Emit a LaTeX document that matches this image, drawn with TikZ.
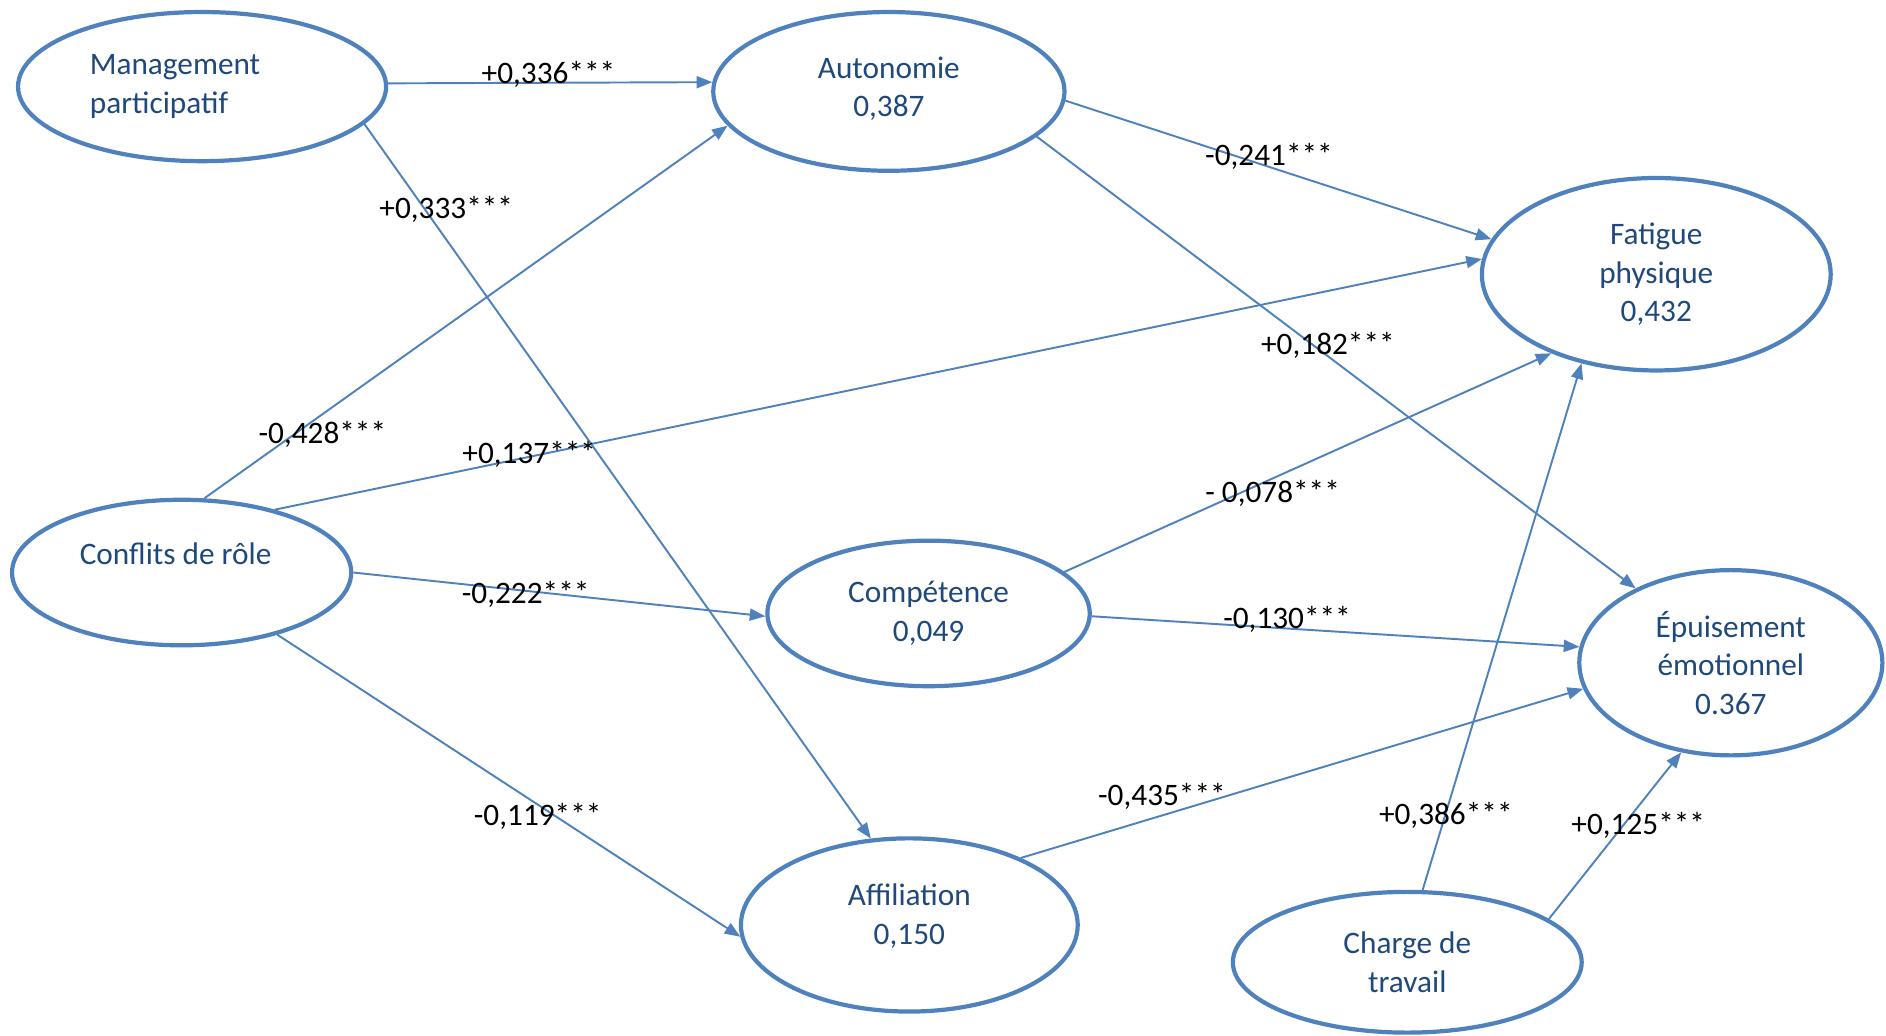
\documentclass[tikz,border=0pt]{standalone}
\usepackage{fontspec}
\setmainfont{Carlito}
\usetikzlibrary{shapes.geometric,arrows.meta}
\definecolor{ebl}{RGB}{79,129,189}
\definecolor{tbl}{RGB}{31,73,125}
\begin{document}
\begin{tikzpicture}[x=1pt,y=-1pt,
  lat/.style={ellipse, draw=ebl, line width=3.5pt, inner sep=0pt, text=tbl,
    font=\fontsize{26}{32}\selectfont, align=center},
  link/.style={draw=ebl, line width=1.6pt, -{Triangle[length=13pt,width=10pt]}},
  coef/.style={font=\fontsize{26}{32}\selectfont, text=black, inner sep=0pt}]
\useasboundingbox (0,0) rectangle (1568,861);
% latent variables
\node[lat, minimum width=306pt, minimum height=124pt, align=left] (mp) at (168,72) {Management\hspace*{45pt}\\participatif};
\node[lat, minimum width=292pt, minimum height=132pt] (au) at (739,76) {Autonomie\\0,387\\[-24pt]\mbox{}};
\node[lat, minimum width=290pt, minimum height=160pt] (fp) at (1377,228) {Fatigue\\physique\\0,432};
\node[lat, minimum width=282pt, minimum height=121pt] (cr) at (151,476) {Conflits de rôle\hspace*{10pt}\\\mbox{}};
\node[lat, minimum width=268pt, minimum height=121pt] (co) at (772,510) {Compétence\\0,049};
\node[lat, minimum width=252pt, minimum height=154pt] (ep) at (1439,551) {Épuisement\\émotionnel\\0.367};
\node[lat, minimum width=280pt, minimum height=144pt] (af) at (756,769) {Affiliation\\0,150\\[-14pt]\mbox{}};
\node[lat, minimum width=290pt, minimum height=117pt] (ch) at (1170,800) {Charge de\\travail};
% paths
\draw[link] (mp.1) -- (au.177);
\draw[link] (mp.-13) -- (af.114);
\draw[link] (cr.73) -- (au.-168);
\draw[link] (cr.34) -- (fp.175);
\draw[link] (cr.0) -- (co.181);
\draw[link] (cr.-33) -- (af.184);
\draw[link] (au.-3) -- (fp.168);
\draw[link] (au.-17) -- (ep.142);
\draw[link] (co.17) -- (fp.217);
\draw[link] (co.-1) -- (ep.174);
\draw[link] (af.31) -- (ep.190);
\draw[link] (ch.78) -- (fp.230);
\draw[link] (ch.17) -- (ep.241);
% coefficients
\node[coef] (l1) at (456,62) {+0,336***};
\node[coef] (l2) at (371,174) {+0,333***};
\node[coef] (l3) at (268,361) {-0,428***};
\node[coef] (l4) at (440,378) {+0,137***};
\node[coef] (l5) at (437,494) {-0,222***};
\node[coef] (l6) at (447,679) {-0,119***};
\node[coef] (l7) at (1055,130) {-0,241***};
\node[coef] (l8) at (1104,287) {+0,182***};
\node[coef] (l9) at (1058,410) {- 0,078***};
\node[coef] (l10) at (1070,515) {-0,130***};
\node[coef] (l11) at (966,662) {-0,435***};
\node[coef] (l12) at (1202,678) {+0,386***};
\node[coef] (l13) at (1362,686) {+0,125***};
\end{tikzpicture}
\end{document}
